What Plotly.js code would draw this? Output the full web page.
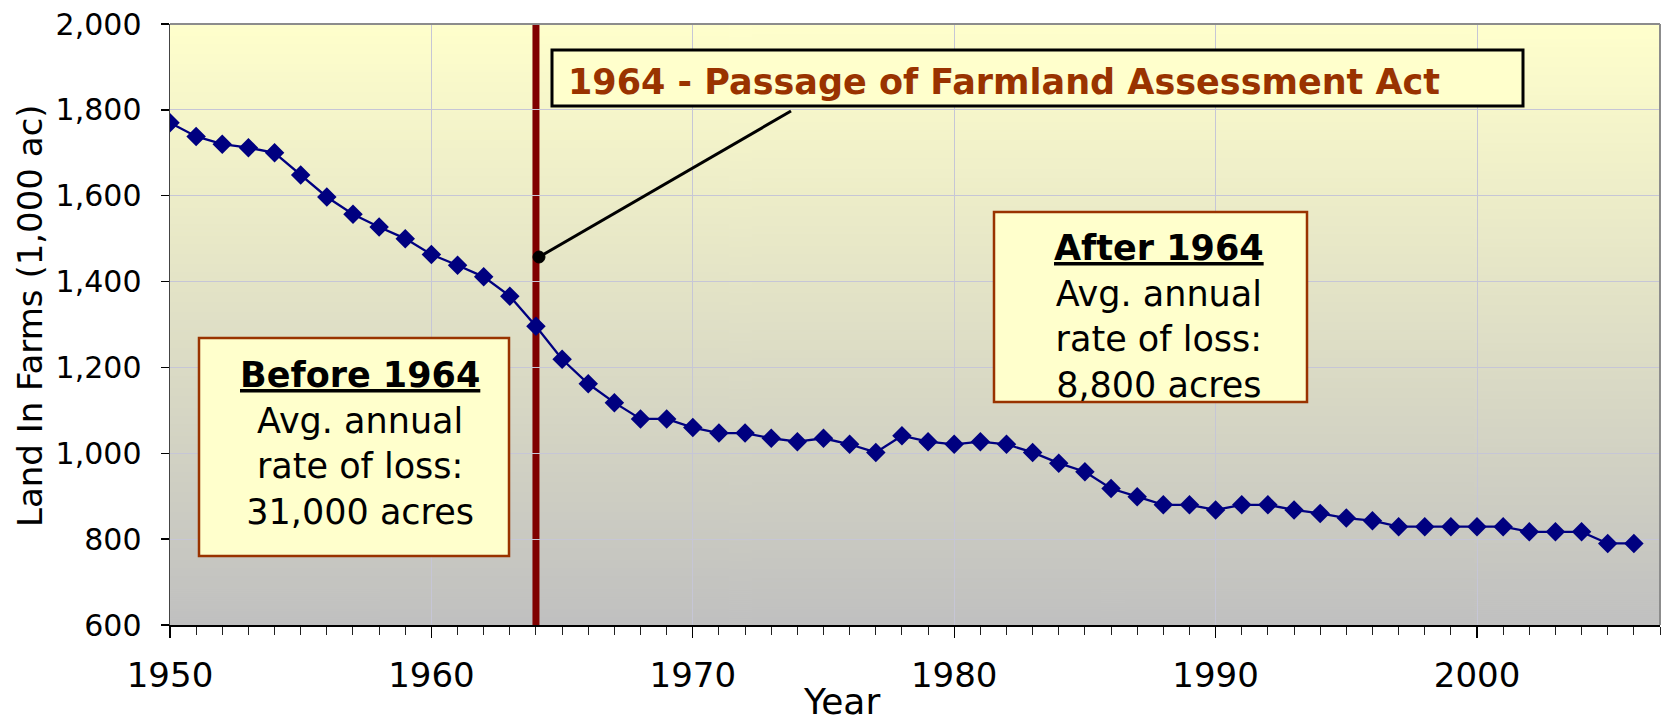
<!DOCTYPE html>
<html>
<head>
<meta charset="utf-8">
<script src="https://cdn.plot.ly/plotly-3.0.1.min.js"></script>
<style>
html,body{margin:0;padding:0;background:#ffffff;}
#chart{width:1661px;height:723px;}
</style>
</head>
<body>
<div id="chart"></div>
<script>
// ---------------- data ----------------
const years = [1950,1951,1952,1953,1954,1955,1956,1957,1958,1959,
               1960,1961,1962,1963,1964,1965,1966,1967,1968,1969,
               1970,1971,1972,1973,1974,1975,1976,1977,1978,1979,
               1980,1981,1982,1983,1984,1985,1986,1987,1988,1989,
               1990,1991,1992,1993,1994,1995,1996,1997,1998,1999,
               2000,2001,2002,2003,2004,2005,2006];
const landInFarms = [1770,1738,1720,1712,1700,1648,1597,1557,1527,1500,
                     1463,1438,1411,1366,1296,1219,1162,1118,1080,1080,
                     1060,1047,1047,1035,1027,1035,1021,1002,1041,1027,
                     1021,1027,1021,1002,977,957,918,899,880,880,
                     868,880,880,868,860,849,843,829,829,829,
                     829,829,817,817,817,790,790];
const xTickVals = [1950,1960,1970,1980,1990,2000];
const xTickText = ['1950','1960','1970','1980','1990','2000'];
const yTickVals = [600,800,1000,1200,1400,1600,1800,2000];
const yTickText = ['600','800','1,000','1,200','1,400','1,600','1,800','2,000'];
const actYear = 1964;
const actNote = '1964 - Passage of Farmland Assessment Act';
const beforeNote = ['Before 1964','Avg. annual','rate of loss:','31,000 acres'];
const afterNote  = ['After 1964','Avg. annual','rate of loss:','8,800 acres'];
const xTitle = 'Year';
const yTitle = 'Land In Farms (1,000 ac)';

// ---------------- layout helpers (pixel -> paper) ----------------
const W = 1661, H = 723;
const L = 170, R = 1660, T = 24, B = 625;
const px = x => (x - L) / (R - L);
const py = y => (B - y) / (B - T);

// background gradient
const cv = document.createElement('canvas');
cv.width = 4; cv.height = 600;
const ctx = cv.getContext('2d');
const grad = ctx.createLinearGradient(0, 0, 0, 600);
grad.addColorStop(0, '#FFFFCC');
grad.addColorStop(1, '#C0C0C0');
ctx.fillStyle = grad;
ctx.fillRect(0, 0, 4, 600);
const bgURL = cv.toDataURL('image/png');

const FONT = 'DejaVu Sans, Verdana, sans-serif';
const GRID = '#C6C6D6';

const trace = {
  x: years, y: landInFarms, type: 'scatter', mode: 'lines+markers',
  line: {color: '#000080', width: 2.3},
  marker: {symbol: 'diamond', size: 15, color: '#000080', line: {width: 0}},
  hoverinfo: 'x+y', showlegend: false
};

function boxText(lines) {
  return '<b><span style="text-decoration:underline">' + lines[0] + '</span></b><br>' +
         lines.slice(1).join('<br>');
}

const layout = {
  width: W, height: H,
  margin: {l: L, r: W - R, t: T, b: H - B, pad: 0},
  paper_bgcolor: '#ffffff',
  plot_bgcolor: 'rgba(0,0,0,0)',
  font: {family: FONT, color: '#000000'},
  showlegend: false,
  xaxis: {
    range: [1950, 2007], type: 'linear',
    tickmode: 'array', tickvals: xTickVals, ticktext: xTickText,
    ticks: 'outside', ticklen: 11, tickwidth: 1.3, tickcolor: '#000000',
    minor: {dtick: 1, ticks: 'outside', ticklen: 8, tickwidth: 1, tickcolor: '#222222', showgrid: false},
    showgrid: true, gridcolor: GRID, gridwidth: 1,
    showline: true, linecolor: '#000000', linewidth: 1.5,
    zeroline: false,
    tickfont: {family: FONT, size: 34, color: '#000000'},
    ticklabelstandoff: 9
  },
  xaxis2: {
    range: [1950, 2007], type: 'linear', overlaying: 'x', anchor: 'y', side: 'bottom',
    tickmode: 'array', tickvals: xTickVals,
    ticks: 'inside', ticklen: 11, tickwidth: 1.3, tickcolor: '#000000',
    minor: {dtick: 1, ticks: 'inside', ticklen: 8, tickwidth: 1, tickcolor: '#222222', showgrid: false},
    showticklabels: false, showgrid: false, showline: false, zeroline: false
  },
  yaxis: {
    range: [600, 2000],
    tickmode: 'array', tickvals: yTickVals, ticktext: yTickText,
    ticks: 'outside', ticklen: 8, tickwidth: 1.3, tickcolor: '#000000',
    showgrid: true, gridcolor: GRID, gridwidth: 1,
    showline: true, linecolor: '#444444', linewidth: 1.5,
    zeroline: false,
    tickfont: {family: FONT, size: 30, color: '#000000'},
    ticklabelstandoff: 13
  },
  images: [{
    source: bgURL, xref: 'paper', yref: 'paper', x: 0, y: 1, sizex: 1, sizey: 1,
    sizing: 'stretch', xanchor: 'left', yanchor: 'top', layer: 'below'
  }],
  shapes: [
    {type: 'line', xref: 'paper', yref: 'paper', x0: 0, x1: 1, y0: 1, y1: 1, line: {color: '#8C8C8C', width: 2}, layer: 'above'},
    {type: 'line', xref: 'paper', yref: 'paper', x0: 1, x1: 1, y0: 0, y1: 1, line: {color: '#8C8C8C', width: 2}, layer: 'above'},
    {type: 'line', xref: 'x', yref: 'paper', x0: actYear, x1: actYear, y0: 0, y1: 1, line: {color: '#800000', width: 7}, layer: 'between'},
    {type: 'rect', xref: 'paper', yref: 'paper', x0: px(552), x1: px(1523), y0: py(106), y1: py(50),
     line: {color: '#000000', width: 3}, fillcolor: '#FFFFCC', layer: 'above'},
    {type: 'line', xref: 'paper', yref: 'paper', x0: px(539), y0: py(257), x1: px(791), y1: py(111),
     line: {color: '#000000', width: 3}, layer: 'above'},
    {type: 'circle', xref: 'paper', yref: 'paper', x0: px(533), x1: px(545), y0: py(263), y1: py(251),
     line: {color: '#000000', width: 1}, fillcolor: '#000000', layer: 'above'},
    {type: 'rect', xref: 'paper', yref: 'paper', x0: px(199), x1: px(509), y0: py(556), y1: py(338),
     line: {color: '#993300', width: 2.5}, fillcolor: '#FFFFCC', layer: 'above'},
    {type: 'rect', xref: 'paper', yref: 'paper', x0: px(994), x1: px(1307), y0: py(402), y1: py(212),
     line: {color: '#993300', width: 2.5}, fillcolor: '#FFFFCC', layer: 'above'}
  ],
  annotations: [
    {text: '<b>' + actNote + '</b>', xref: 'paper', yref: 'paper', x: px(566), y: py(82),
     xanchor: 'left', yanchor: 'middle', showarrow: false,
     font: {family: FONT, size: 35, color: '#993300'}},
    {text: boxText(beforeNote), xref: 'paper', yref: 'paper', x: px(360), y: py(443),
     xanchor: 'center', yanchor: 'middle', align: 'center', showarrow: false,
     font: {family: FONT, size: 35, color: '#000000'}},
    {text: boxText(afterNote), xref: 'paper', yref: 'paper', x: px(1159), y: py(316),
     xanchor: 'center', yanchor: 'middle', align: 'center', showarrow: false,
     font: {family: FONT, size: 35, color: '#000000'}},
    {text: xTitle, xref: 'paper', yref: 'paper', x: px(841), y: py(702),
     xanchor: 'center', yanchor: 'middle', showarrow: false,
     font: {family: FONT, size: 36, color: '#000000'}},
    {text: yTitle, xref: 'paper', yref: 'paper', x: px(30), y: py(316), textangle: -90,
     xanchor: 'center', yanchor: 'middle', showarrow: false,
     font: {family: FONT, size: 34, color: '#000000'}}
  ]
};

Plotly.newPlot('chart', [trace], layout, {staticPlot: true, displayModeBar: false});
</script>
</body>
</html>
